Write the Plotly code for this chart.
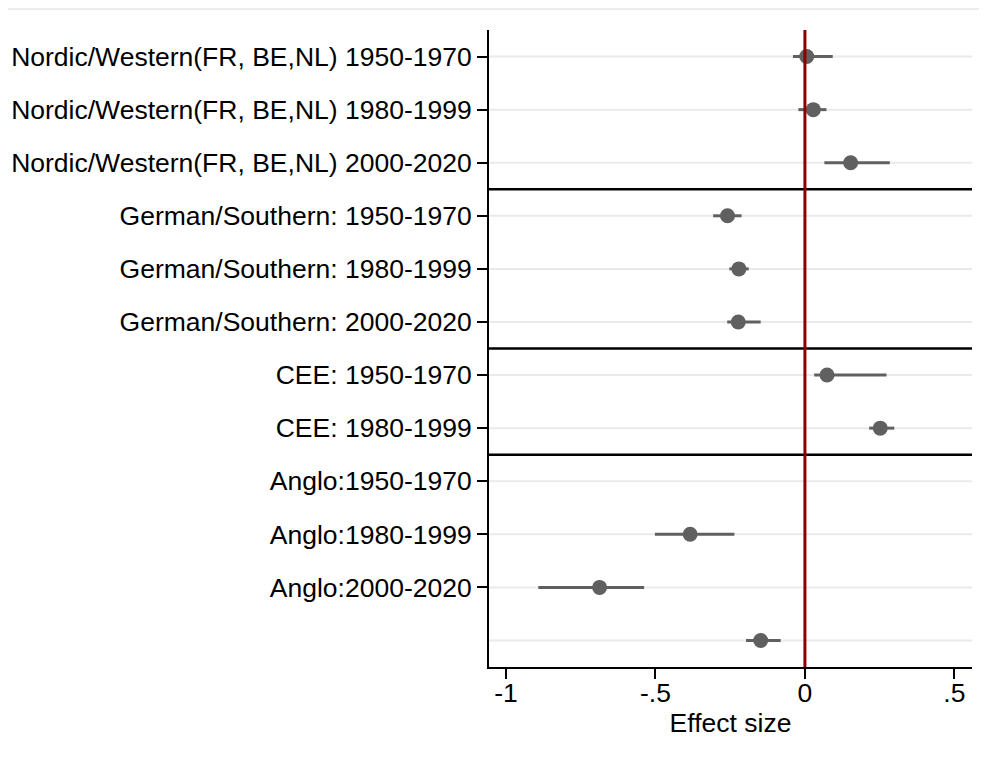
import plotly.graph_objects as go

labels = [
    "Nordic/Western(FR, BE,NL) 1950-1970",
    "Nordic/Western(FR, BE,NL) 1980-1999",
    "Nordic/Western(FR, BE,NL) 2000-2020",
    "German/Southern: 1950-1970",
    "German/Southern: 1980-1999",
    "German/Southern: 2000-2020",
    "CEE: 1950-1970",
    "CEE: 1980-1999",
    "Anglo:1950-1970",
    "Anglo:1980-1999",
    "Anglo:2000-2020",
    "",
]
coef = [0.006, 0.028, 0.153, -0.259, -0.221, -0.223, 0.074, 0.252, None, -0.384, -0.687, -0.148]
ci_lo = [-0.040, -0.022, 0.065, -0.307, -0.253, -0.260, 0.031, 0.215, None, -0.502, -0.892, -0.197]
ci_hi = [0.093, 0.072, 0.284, -0.212, -0.188, -0.148, 0.273, 0.299, None, -0.236, -0.538, -0.081]
group_sizes = [3, 3, 2, 4]
x_ticks = [-1, -0.5, 0, 0.5]
x_ticktext = ["-1", "-.5", "0", ".5"]

rows = list(range(1, len(labels) + 1))
err_plus = [None if c is None else h - c for c, h in zip(coef, ci_hi)]
err_minus = [None if c is None else c - l for c, l in zip(coef, ci_lo)]

FONT = "Liberation Sans, Arial, Helvetica, sans-serif"
GRAY = "#606060"

fig = go.Figure()
fig.add_trace(go.Scatter(
    x=coef, y=rows, mode="markers",
    marker=dict(size=15, color=GRAY),
    error_x=dict(type="data", symmetric=False, array=err_plus, arrayminus=err_minus,
                 width=0, thickness=3, color=GRAY),
    showlegend=False, hoverinfo="skip",
))

shapes = []
for r in rows:
    shapes.append(dict(type="line", xref="paper", yref="y", x0=0, x1=1, y0=r, y1=r,
                       line=dict(color="#eaeaea", width=2), layer="below"))
cum = 0
for g in group_sizes[:-1]:
    cum += g
    shapes.append(dict(type="line", xref="paper", yref="y", x0=0, x1=1, y0=cum + 0.5, y1=cum + 0.5,
                       line=dict(color="black", width=2.5), layer="above"))
shapes.append(dict(type="line", xref="x", yref="paper", x0=0, x1=0, y0=0, y1=1,
                   line=dict(color="#8b0000", width=3), layer="above"))

# page body has an 8px margin; figure sized to fit inside the window
W, H = 971, 755
L, T = 481, 22
pw, ph = 483, 637
R, B = W - L - pw, H - T - ph
shapes.append(dict(type="line", xref="paper", yref="paper", x0=-L / pw, x1=1 + R / pw,
                   y0=1 + (T - 1) / ph, y1=1 + (T - 1) / ph,
                   line=dict(color="#e6e6e6", width=1.5)))

fig.update_layout(
    width=W, height=H,
    margin=dict(l=L, r=R, t=T, b=B, pad=0),
    paper_bgcolor="white", plot_bgcolor="white",
    font=dict(family=FONT, size=26.5, color="black"),
    shapes=shapes,
    xaxis=dict(
        range=[-1.057, 0.559], tickvals=x_ticks, ticktext=x_ticktext, automargin=False,
        showgrid=False, zeroline=False, showline=True, linecolor="black", linewidth=2,
        ticks="outside", ticklen=10, tickwidth=2, tickcolor="black",
        tickfont=dict(size=26.5), ticklabelstandoff=-9,
        title=dict(text="Effect size", font=dict(size=26.5), standoff=0),
    ),
    yaxis=dict(
        range=[len(labels) + 0.5, 0.5], tickvals=rows[:-1], ticktext=labels[:-1], automargin=False,
        showgrid=False, zeroline=False, showline=True, linecolor="black", linewidth=2,
        ticks="outside", ticklen=10, tickwidth=2, tickcolor="black",
        tickfont=dict(size=26.5),
    ),
)

fig.write_html("out.html")
